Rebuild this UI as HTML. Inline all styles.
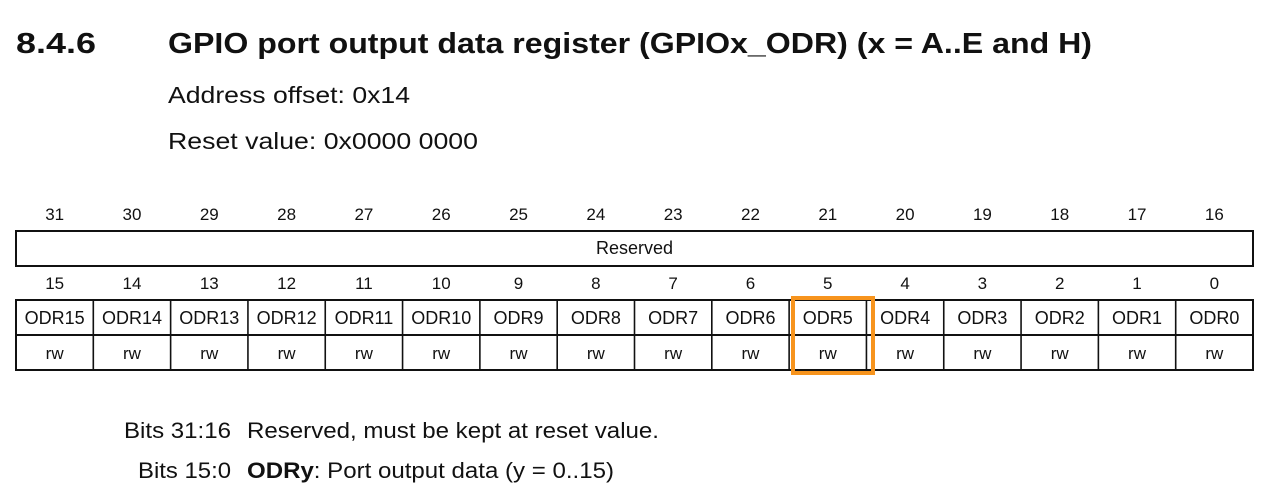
<!DOCTYPE html>
<html><head><meta charset="utf-8"><style>
html,body{margin:0;padding:0;background:#fff;}
svg{display:block;font-family:"Liberation Sans",Arial,sans-serif;}
</style></head><body>
<svg width="1270" height="489" viewBox="0 0 1270 489">
<text x="16" y="53" font-size="29" font-weight="bold" fill="#111" textLength="80" lengthAdjust="spacingAndGlyphs">8.4.6</text>
<text x="168" y="53" font-size="29" font-weight="bold" fill="#111" textLength="924" lengthAdjust="spacingAndGlyphs">GPIO port output data register (GPIOx_ODR) (x = A..E and H)</text>
<text x="168" y="103" font-size="23" fill="#111" textLength="242" lengthAdjust="spacingAndGlyphs">Address offset: 0x14</text>
<text x="168" y="149" font-size="23" fill="#111" textLength="310" lengthAdjust="spacingAndGlyphs">Reset value: 0x0000 0000</text>
<g id="tbl"></g>
<rect x="16" y="231" width="1237" height="35" fill="none" stroke="#111" stroke-width="2"/>
<text x="634.5" y="254" font-size="18" text-anchor="middle" fill="#111">Reserved</text>
<rect x="16" y="300" width="1237" height="70" fill="none" stroke="#111" stroke-width="2"/>
<line x1="16" y1="335" x2="1253" y2="335" stroke="#111" stroke-width="2"/>
<text x="124" y="438" font-size="22" fill="#111" textLength="107" lengthAdjust="spacingAndGlyphs">Bits 31:16</text>
<text x="247" y="438" font-size="22" fill="#111" textLength="412" lengthAdjust="spacingAndGlyphs">Reserved, must be kept at reset value.</text>
<text x="138" y="478" font-size="22" fill="#111" textLength="93" lengthAdjust="spacingAndGlyphs">Bits 15:0</text>
<text x="247" y="478" font-size="22" fill="#111" textLength="367" lengthAdjust="spacingAndGlyphs"><tspan font-weight="bold">ODRy</tspan>: Port output data (y = 0..15)</text>
<rect x="793" y="298" width="80" height="75" fill="none" stroke="#f7941d" stroke-width="4"/>
</svg>
<script>
const ns="http://www.w3.org/2000/svg";
const g=document.getElementById('tbl');
const x0=16,w=(1253-16)/16;
function t(x,y,s,size){const e=document.createElementNS(ns,'text');e.setAttribute('x',x);e.setAttribute('y',y);e.setAttribute('font-size',size);e.setAttribute('text-anchor','middle');e.setAttribute('fill','#111');e.textContent=s;g.appendChild(e);return e;}
for(let i=0;i<16;i++){
  const cx=x0+w*(i+0.5);
  let e=t(cx,220,String(31-i),17);
  
  
  e=t(cx,289,String(15-i),17);
  
  
  e=t(cx,324,'ODR'+(15-i),18);
  
  
  e=t(cx,359,'rw',17);
  
  
  if(i>0){const l=document.createElementNS(ns,'line');const x=x0+w*i;l.setAttribute('x1',x);l.setAttribute('x2',x);l.setAttribute('y1',300);l.setAttribute('y2',370);l.setAttribute('stroke','#111');l.setAttribute('stroke-width','1.6');
  
  
  g.appendChild(l);}
}
</script>
</body></html>
